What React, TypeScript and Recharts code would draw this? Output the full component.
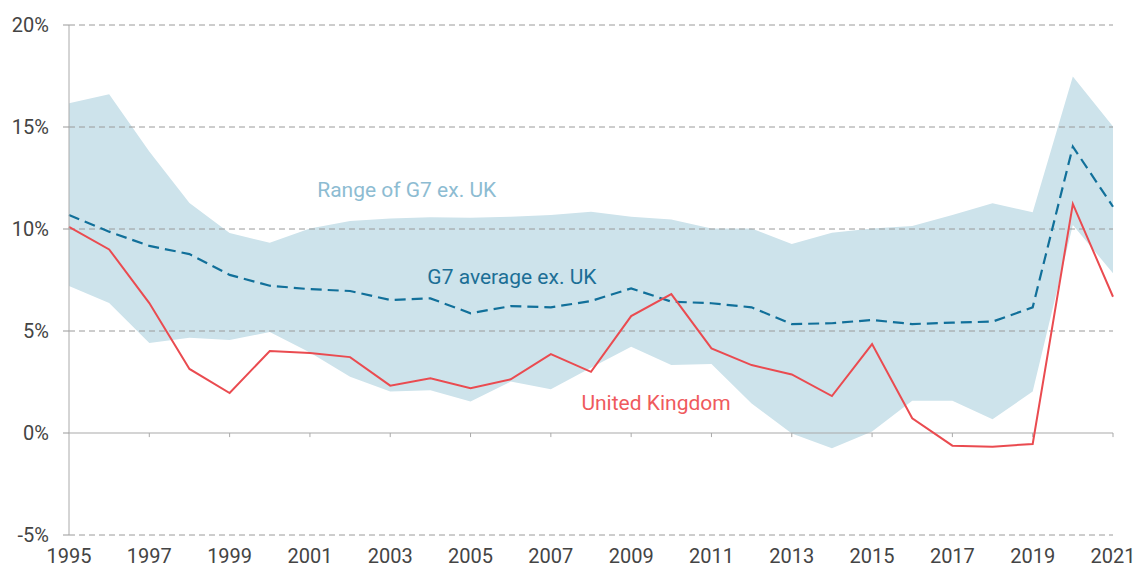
import React from 'react';
import { ComposedChart, Area, Line, XAxis, YAxis, ReferenceLine, ReferenceDot } from 'recharts';

if (typeof document !== 'undefined') {
  document.body.style.margin = '0';
}

const years = [1995, 1996, 1997, 1998, 1999, 2000, 2001, 2002, 2003, 2004, 2005, 2006, 2007, 2008, 2009, 2010, 2011, 2012, 2013, 2014, 2015, 2016, 2017, 2018, 2019, 2020, 2021];
const ukValues = [10.1, 9.0, 6.37, 3.14, 1.96, 4.02, 3.92, 3.72, 2.32, 2.68, 2.19, 2.63, 3.87, 3.0, 5.73, 6.81, 4.15, 3.33, 2.87, 1.81, 4.36, 0.72, -0.62, -0.67, -0.54, 11.23, 6.68];
const g7Average = [10.69, 9.87, 9.17, 8.77, 7.75, 7.22, 7.05, 6.96, 6.52, 6.6, 5.87, 6.22, 6.16, 6.47, 7.09, 6.44, 6.36, 6.16, 5.34, 5.38, 5.54, 5.34, 5.41, 5.46, 6.16, 14.04, 11.09];
const g7High = [16.16, 16.6, 13.8, 11.27, 9.8, 9.33, 10.03, 10.39, 10.52, 10.57, 10.55, 10.6, 10.69, 10.85, 10.6, 10.47, 10.03, 10.03, 9.26, 9.82, 10.03, 10.15, 10.69, 11.26, 10.82, 17.47, 15.02];
const g7Low = [7.2, 6.37, 4.41, 4.67, 4.56, 4.95, 3.95, 2.76, 2.03, 2.1, 1.54, 2.52, 2.14, 3.2, 4.23, 3.33, 3.38, 1.45, -0.02, -0.75, 0.07, 1.58, 1.58, 0.67, 2.03, 10.2, 7.83];

const xTicks = [1995, 1997, 1999, 2001, 2003, 2005, 2007, 2009, 2011, 2013, 2015, 2017, 2019, 2021];
const yTicks = [-5, 0, 5, 10, 15, 20];
const gridValues = [-5, 5, 10, 15, 20];

const data = years.map((year, i) => ({
  year,
  uk: ukValues[i],
  g7: g7Average[i],
  range: [g7Low[i], g7High[i]],
}));

const FONT = 'Roboto, "DejaVu Sans", sans-serif';

export default function App() {
  return (
    <div style={{ width: 1148, height: 570, background: '#fff' }}>
      <ComposedChart
        width={1148}
        height={570}
        data={data}
        margin={{ top: 25, right: 35, bottom: 0, left: 0 }}
      >
        <XAxis
          dataKey="year"
          type="number"
          domain={[1995, 2021]}
          ticks={xTicks}
          axisLine={false}
          tickLine={false}
          tickSize={0}
          tickMargin={14}
          height={35}
          interval={0}
          tick={{ fill: '#444444', fontSize: 20, fontFamily: FONT }}
        />
        <YAxis
          type="number"
          domain={[-5, 20]}
          ticks={yTicks}
          width={69}
          axisLine={{ stroke: '#aaaaaa', strokeWidth: 1 }}
          tickLine={{ stroke: '#999999' }}
          tickSize={6}
          tickMargin={14}
          tickFormatter={(v: number) => `${v}%`}
          tick={{ fill: '#444444', fontSize: 20, fontFamily: FONT }}
        />
        <Area
          dataKey="range"
          type="linear"
          stroke="none"
          fill="#cde3eb"
          fillOpacity={1}
          isAnimationActive={false}
        />
        {gridValues.map((v) => (
          <ReferenceLine key={`g${v}`} y={v} stroke="#9a9a9a" strokeDasharray="6 4" strokeWidth={1} />
        ))}
        <ReferenceLine y={0} stroke="#aaaaaa" strokeWidth={1.2} />
        {xTicks.slice(1).map((yr) => (
          <ReferenceLine
            key={`t${yr}`}
            segment={[{ x: yr, y: 0 }, { x: yr, y: -0.2 }]}
            stroke="#aaaaaa"
            strokeWidth={1}
          />
        ))}
        <Line
          dataKey="g7"
          type="linear"
          stroke="#11709a"
          strokeWidth={2.2}
          strokeDasharray="11 6"
          dot={false}
          activeDot={false}
          isAnimationActive={false}
        />
        <Line
          dataKey="uk"
          type="linear"
          stroke="#ea4b50"
          strokeWidth={2}
          dot={false}
          activeDot={false}
          isAnimationActive={false}
        />
        <ReferenceDot
          x={2003.41}
          y={11.91}
          r={0}
          fill="none"
          stroke="none"
          label={{ value: 'Range of G7 ex. UK', position: 'center', fill: '#8dbcd2', fontSize: 21, fontFamily: FONT }}
        />
        <ReferenceDot
          x={2006.03}
          y={7.65}
          r={0}
          fill="none"
          stroke="none"
          label={{ value: 'G7 average ex. UK', position: 'center', fill: '#1c6f96', fontSize: 21, fontFamily: FONT }}
        />
        <ReferenceDot
          x={2009.62}
          y={1.47}
          r={0}
          fill="none"
          stroke="none"
          label={{ value: 'United Kingdom', position: 'center', fill: '#ef5a5d', fontSize: 21, fontFamily: FONT }}
        />
      </ComposedChart>
    </div>
  );
}
